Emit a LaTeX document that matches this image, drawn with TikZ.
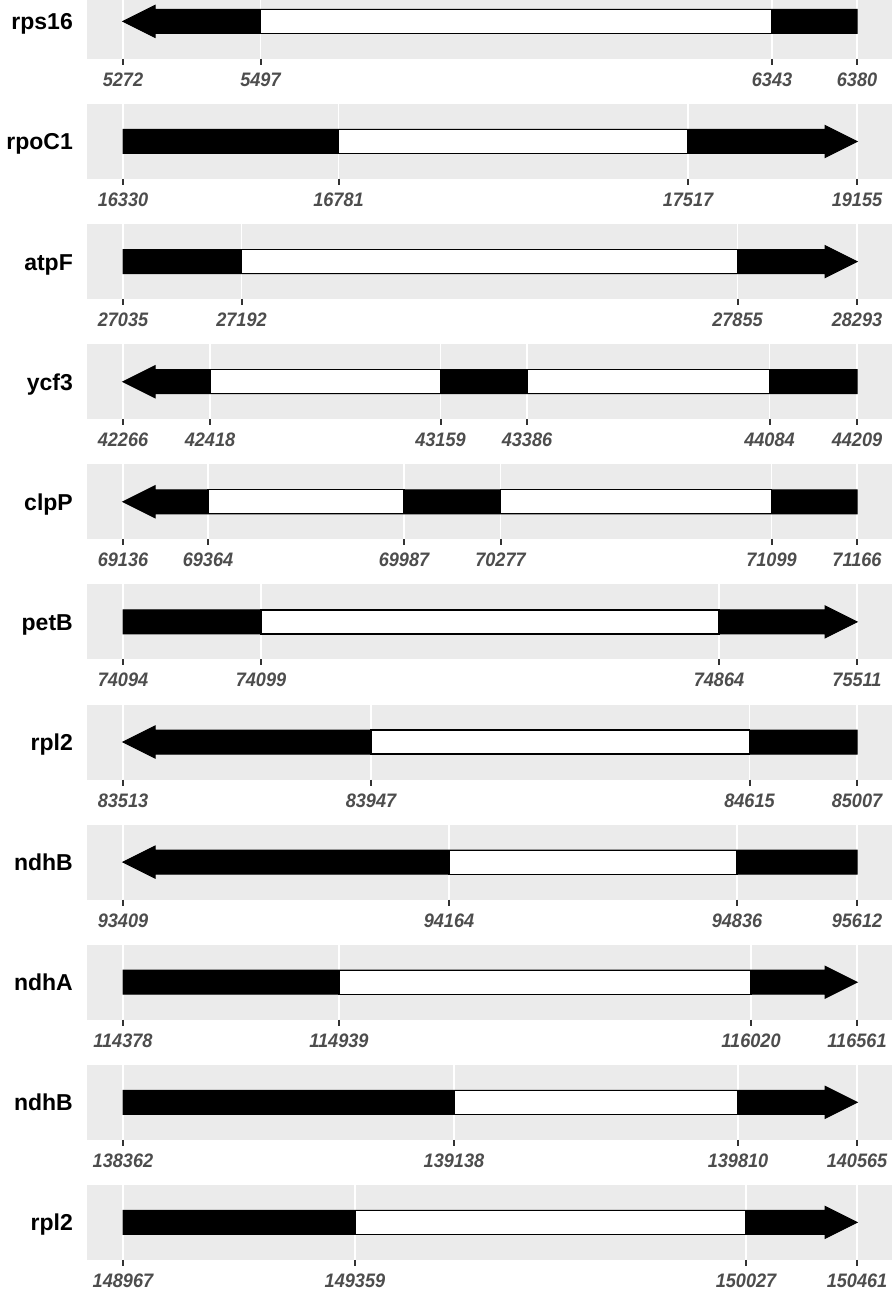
\documentclass[tikz,border=0pt]{standalone}
\usepackage{fontspec}
\setmainfont{Liberation Sans}
\newfontfamily\tickfont[FakeStretch=0.93]{Liberation Sans}
\definecolor{panelbg}{HTML}{EBEBEB}
\definecolor{tickgrey}{HTML}{333333}
\definecolor{labgrey}{HTML}{4D4D4D}
\tikzset{
  panel/.style={fill=panelbg},
  gridline/.style={draw=white, line width=1.6},
  tickmark/.style={draw=tickgrey, line width=2},
  ticklab/.style={text=labgrey, font=\tickfont\fontsize{19.5}{19.5}\selectfont\bfseries\itshape, inner sep=0, anchor=base},
  genelab/.style={text=black, font=\fontsize{23}{23}\selectfont\bfseries, inner sep=0, anchor=base east},
  genebody/.style={fill=black, draw=black, line width=1},
  intron/.style={fill=white, draw=black, line width=1.2},
}
\newcommand\gpanel[5]{%
  \pgfmathsetmacro\ptop{104+(#1-2)*120.1}%
  \pgfmathsetmacro\pc{\ptop+37.5}%
  \pgfmathsetmacro\pb{\ptop+75}%
  \fill[panel] (87,\ptop) rectangle (892,\pb);
  \foreach \x/\l in {#4} {
    \draw[gridline] (\x,\ptop) -- (\x,\pb);
    \draw[tickmark] (\x,\pb) -- (\x,\pb+6);
    \node[ticklab] (t#1-\l) at (\x,\pb+27.5) {\l};
  }
  \if#3R
    \filldraw[genebody] (123,\pc-12) -- (825,\pc-12) -- (825,\pc-16) -- (857,\pc) -- (825,\pc+16) -- (825,\pc+12) -- (123,\pc+12) -- cycle;
  \else
    \filldraw[genebody] (857,\pc-12) -- (155,\pc-12) -- (155,\pc-16) -- (123,\pc) -- (155,\pc+16) -- (155,\pc+12) -- (857,\pc+12) -- cycle;
  \fi
  \foreach \a/\b in {#5} {
    \filldraw[intron] (\a,\pc-12) rectangle (\b,\pc+12);
  }
  \node[genelab] (g#1) at (73,\pc+8.5) {#2};
}
\begin{document}
\begin{tikzpicture}[x=1pt,y=-1pt]
\useasboundingbox (0,0) rectangle (892,1289);
\begin{scope}
\clip (0,0) rectangle (892,1289);
\gpanel{1}{rps16}{L}{123/5272,260.5/5497,772/6343,857/6380}{260.5/772}
\end{scope}
\gpanel{2}{rpoC1}{R}{123/16330,338.5/16781,688/17517,857/19155}{338.5/688}
\gpanel{3}{atpF}{R}{123/27035,241.5/27192,737.5/27855,857/28293}{241.5/737.5}
\gpanel{4}{ycf3}{L}{123/42266,210/42418,440.5/43159,527/43386,769.5/44084,857/44209}{210/440.5,527/769.5}
\gpanel{5}{clpP}{L}{123/69136,208/69364,404/69987,500.5/70277,771.5/71099,857/71166}{208/404,500.5/771.5}
\gpanel{6}{petB}{R}{123/74094,261/74099,719/74864,857/75511}{261/719}
\gpanel{7}{rpl2}{L}{123/83513,371/83947,749.5/84615,857/85007}{371/749.5}
\gpanel{8}{ndhB}{L}{123/93409,449/94164,737/94836,857/95612}{449/737}
\gpanel{9}{ndhA}{R}{123/114378,339/114939,751/116020,857/116561}{339/751}
\gpanel{10}{ndhB}{R}{123/138362,454/139138,738/139810,857/140565}{454/738}
\gpanel{11}{rpl2}{R}{123/148967,355/149359,746/150027,857/150461}{355/746}
\end{tikzpicture}
\end{document}
